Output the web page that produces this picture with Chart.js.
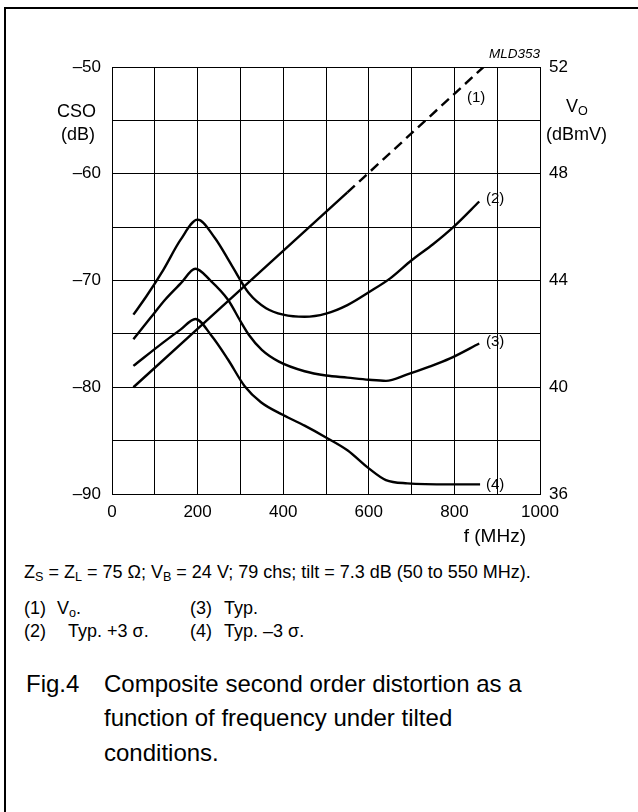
<!DOCTYPE html>
<html>
<head>
<meta charset="utf-8">
<script src="https://cdn.jsdelivr.net/npm/chart.js@4.4.1/dist/chart.umd.min.js"></script>
<style>
  html, body { margin: 0; padding: 0; background: #fff; }
  body { width: 638px; height: 812px; position: relative; overflow: hidden;
         font-family: "Liberation Sans", Arial, sans-serif; color: #000; }
  #frame { position: absolute; left: 4px; top: 7px; width: 634px; height: 805px;
           border-left: 2px solid #000; border-top: 2px solid #000; }
  #wrap { position: absolute; left: 0; top: 0; width: 638px; height: 540px; }
  .t { position: absolute; white-space: nowrap; line-height: 1; }
  sub { font-size: 70%; vertical-align: -0.25em; line-height: 0; }
  .n { font-size: 18px; }
  .c { font-size: 24px; }
</style>
</head>
<body>
<div id="frame"></div>
<div id="wrap"><canvas id="chart" width="638" height="540"></canvas></div>

<div class="t" style="right:98px; top:47px; font-size:13.5px; font-style:italic;">MLD353</div>
<div class="t" style="left:57px; top:102px; font-size:18px;">CSO</div>
<div class="t" style="left:61px; top:125px; font-size:18px;">(dB)</div>
<div class="t" style="left:566px; top:97px; font-size:18px;">V<sub>O</sub></div>
<div class="t" style="left:546px; top:125px; font-size:18px;">(dBmV)</div>
<div class="t" style="left:467px; top:89px; font-size:15px;">(1)</div>
<div class="t" style="left:486px; top:190px; font-size:15px;">(2)</div>
<div class="t" style="left:486px; top:333px; font-size:15px;">(3)</div>
<div class="t" style="left:486px; top:476px; font-size:15px;">(4)</div>
<div class="t" style="right:112px; top:526px; font-size:19px;">f (MHz)</div>

<div class="t n" style="left:24px; top:563px;">Z<sub>S</sub> = Z<sub>L</sub> = 75 Ω; V<sub>B</sub> = 24 V; 79 chs; tilt = 7.3 dB (50 to 550 MHz).</div>
<div class="t n" style="left:24px; top:599px;">(1)</div>
<div class="t n" style="left:57px; top:599px;">V<sub>o</sub>.</div>
<div class="t n" style="left:190px; top:599px;">(3)</div>
<div class="t n" style="left:224px; top:599px;">Typ.</div>
<div class="t n" style="left:24px; top:622px;">(2)</div>
<div class="t n" style="left:68px; top:622px;">Typ. +3 σ.</div>
<div class="t n" style="left:190px; top:622px;">(4)</div>
<div class="t n" style="left:224px; top:622px;">Typ. –3 σ.</div>

<div class="t c" style="left:26px; top:672px;">Fig.4</div>
<div class="t c" style="left:104px; top:672px;">Composite second order distortion as a</div>
<div class="t c" style="left:104px; top:706px;">function of frequency under tilted</div>
<div class="t c" style="left:104px; top:741px;">conditions.</div>

<script>
// (1) Vo, right axis (dBmV): solid over the tilt range, dashed beyond
const voFreqSolid = [50, 550];
const voSolid = [40, 47.3];
const voFreqDash = [550, 868];
const voDash = [47.3, 52];

// (2) Typ. +3 sigma, CSO (dB)
const freqHigh = [50, 80, 120, 160, 200, 240, 280, 320, 360, 400, 450, 500, 550, 600, 650, 700, 750, 800, 858];
const csoHigh = [-73.2, -71.5, -69.0, -66.2, -64.3, -66.0, -68.6, -71.2, -72.6, -73.2, -73.4, -73.1, -72.3, -71.1, -69.8, -68.1, -66.6, -64.9, -62.6];

// (3) Typ.
const freqTyp = [50, 90, 124, 160, 195, 230, 271, 300, 320, 350, 390, 450, 500, 550, 600, 640, 690, 740, 790, 858];
const csoTyp = [-75.5, -73.5, -71.8, -70.3, -68.9, -70.0, -71.8, -73.8, -75.1, -76.5, -77.6, -78.5, -78.9, -79.1, -79.3, -79.4, -78.8, -78.1, -77.3, -75.9];

// (4) Typ. -3 sigma
const freqLow = [50, 120, 160, 195, 233, 271, 310, 348, 400, 450, 500, 550, 600, 640, 690, 790, 860];
const csoLow = [-78.0, -75.8, -74.6, -73.6, -75.2, -77.4, -79.9, -81.4, -82.6, -83.6, -84.7, -85.9, -87.6, -88.7, -89.0, -89.1, -89.1];

// axis tick labels
const xTicks = [0, 200, 400, 600, 800, 1000];
const csoTicks = [-50, -60, -70, -80, -90];
const voTicks = [52, 48, 44, 40, 36];

function pts(xs, ys) {
    return xs.map((x, i) => ({ x: x, y: ys[i] }));
}

const tickFont = { family: '"Liberation Sans", Arial, sans-serif', size: 17 };

function lineSet(data, axis, dash) {
    return {
        data: data,
        yAxisID: axis,
        borderColor: '#000',
        borderWidth: 2.4,
        borderDash: dash || [],
        showLine: true,
        pointRadius: 0,
        fill: false,
        tension: 0.4,
        cubicInterpolationMode: 'monotone'
    };
}

const ctx = document.getElementById('chart').getContext('2d');
new Chart(ctx, {
    type: 'scatter',
    data: {
        datasets: [
            lineSet(pts(voFreqSolid, voSolid), 'y1'),
            lineSet(pts(voFreqDash, voDash), 'y1', [10, 6]),
            lineSet(pts(freqHigh, csoHigh), 'y'),
            lineSet(pts(freqTyp, csoTyp), 'y'),
            lineSet(pts(freqLow, csoLow), 'y')
        ]
    },
    options: {
        responsive: false,
        animation: false,
        layout: { padding: { top: 67, left: 0, right: 0, bottom: 0 } },
        plugins: { legend: { display: false }, tooltip: { enabled: false } },
        scales: {
            x: {
                type: 'linear',
                min: 0, max: 1000,
                afterFit: s => { s.height = 46; },
                afterBuildTicks: s => { s.ticks = Array.from({ length: 11 }, (_, i) => ({ value: i * 100 })); },
                ticks: {
                    autoSkip: false, maxRotation: 0, padding: 8,
                    color: '#000', font: tickFont,
                    callback: v => xTicks.includes(v) ? String(v) : ''
                },
                grid: { color: '#000', lineWidth: 1, drawTicks: false },
                border: { color: '#000', width: 1 }
            },
            y: {
                position: 'left',
                min: -90, max: -50,
                afterFit: s => { s.width = 112; },
                afterBuildTicks: s => { s.ticks = Array.from({ length: 9 }, (_, i) => ({ value: -90 + i * 5 })); },
                ticks: {
                    autoSkip: false, padding: 11,
                    color: '#000', font: tickFont,
                    callback: v => csoTicks.includes(v) ? String(v).replace('-', '\u2013') : ''
                },
                grid: { color: '#000', lineWidth: 1, drawTicks: false },
                border: { color: '#000', width: 1 }
            },
            y1: {
                position: 'right',
                min: 36, max: 52,
                afterFit: s => { s.width = 98; },
                afterBuildTicks: s => { s.ticks = voTicks.map(v => ({ value: v })); },
                ticks: {
                    autoSkip: false, padding: 9,
                    color: '#000', font: tickFont
                },
                grid: { drawOnChartArea: false, drawTicks: false },
                border: { color: '#000', width: 1 }
            }
        }
    }
});
</script>
</body>
</html>
